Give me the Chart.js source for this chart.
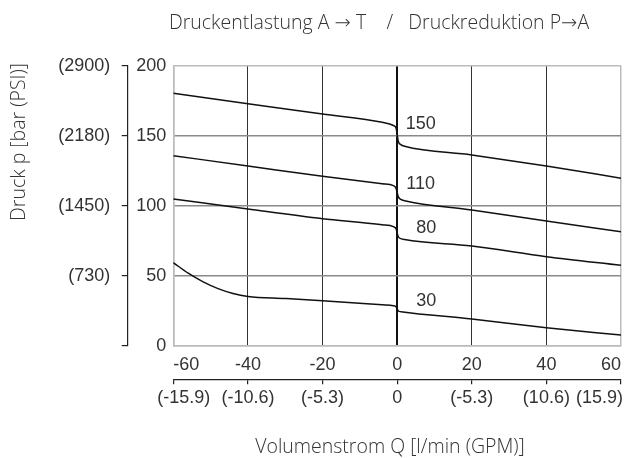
<!DOCTYPE html>
<html lang="de">
<head>
<meta charset="UTF-8">
<title>Druckentlastung / Druckreduktion</title>
<script src="https://cdn.jsdelivr.net/npm/chart.js"></script>
<style>
  html, body { margin: 0; padding: 0; background: #ffffff; }
  #wrap { width: 630px; height: 458px; }
</style>
</head>
<body>
<div id="wrap"><canvas id="chart" width="630" height="458"></canvas></div>
<script>
// axis ticks (bar / l/min) and the secondary labels (PSI / GPM)
const flowTicks = [-60, -40, -20, 0, 20, 40, 60];
const gpmLabels = ['(-15.9)', '(-10.6)', '(-5.3)', '0', '(-5.3)', '(10.6)', '(15.9)'];
const barTicks = [0, 50, 100, 150, 200];
const psiLabels = ['', '(730)', '(1450)', '(2180)', '(2900)'];

// curves: flow Q [l/min] -> pressure p [bar]
const curveNames = ['150', '110', '80', '30'];
const flow150 = [-60, -40, -20, -4, -1, -0.3, 0, 0.3, 1, 2, 20, 40, 60];
const pres150 = [180.3, 172.9, 165.5, 159.6, 157.3, 155.5, 151, 146, 143.6, 142.5, 136.2, 128.4, 119.6];
const flow110 = [-60, -40, -20, -4, -1, -0.3, 0, 0.3, 1, 2, 20, 40, 60];
const pres110 = [135.7, 128.4, 121, 115.6, 114.3, 112.5, 109.5, 106.5, 104.5, 103.6, 96.9, 89.1, 81.4];
const flow80 = [-60, -40, -20, -4, -1, -0.3, 0, 0.3, 1, 2, 20, 40, 60];
const pres80 = [104.8, 97.6, 90.7, 86.4, 85, 83.5, 80.5, 77.8, 76.5, 75.8, 71.2, 63.6, 57.4];
const flow30 = [-60, -56, -52, -48, -44, -40, -30, -20, -4, -1, -0.3, 0, 0.3, 1, 20, 40, 60];
const pres30 = [59.3, 51.8, 45.6, 40.8, 37.3, 35.2, 33.7, 32.1, 29.2, 28.6, 27.9, 26.3, 24.8, 24.3, 19.1, 12.9, 7.6];

const curves = [[flow150, pres150], [flow110, pres110], [flow80, pres80], [flow30, pres30]];

const tickFont = { family: "'Liberation Sans', Arial, sans-serif", size: 18 };
const textFont = "300 19.5px 'Open Sans', 'DejaVu Sans', sans-serif";
const ink = '#333333';

const datasets = curves.map(([q, p], i) => ({
    label: curveNames[i],
    data: q.map((v, j) => ({ x: v, y: p[j] })),
    borderColor: '#111111',
    borderWidth: 1.5,
    pointRadius: 0,
    fill: false,
    cubicInterpolationMode: 'monotone',
    xAxisID: 'x',
    yAxisID: 'y'
}));

// curve names, GPM labels and the free texts
const extraText = {
    id: 'extraText',
    afterDatasetsDraw(chart) {
        const { ctx, scales: { x, y, x2 } } = chart;
        const spots = [[6.3, 158.6], [6.3, 115.5], [7.8, 83.9], [7.8, 31.9]];
        ctx.save();
        ctx.fillStyle = ink;
        ctx.font = `${tickFont.size}px ${tickFont.family}`;
        ctx.textAlign = 'center';
        ctx.textBaseline = 'middle';
        curveNames.forEach((name, i) => {
            ctx.fillText(name, x.getPixelForValue(spots[i][0]), y.getPixelForValue(spots[i][1]));
        });

        // GPM labels: the end ones are pulled inward like in the original sheet
        const last = flowTicks.length - 1;
        flowTicks.forEach((q, i) => {
            let px = x2.getPixelForValue(q);
            ctx.textAlign = 'center';
            if (i === 0) { ctx.textAlign = 'left'; px -= 16; }
            if (i === last) { ctx.textAlign = 'right'; px += 2; }
            ctx.fillText(gpmLabels[i], px, x2.top + 19);
        });

        ctx.font = textFont;
        ctx.textAlign = 'center';
        ctx.fillText('Druckentlastung A \u2192 T    /   Druckreduktion P\u2192A', 379, 23);
        ctx.fillText('Volumenstrom Q [l/min (GPM)]', 390, 447);
        ctx.translate(19, 142);
        ctx.rotate(-Math.PI / 2);
        ctx.fillText('Druck p [bar (PSI)]', 0, 0);
        ctx.restore();
    }
};

new Chart(document.getElementById('chart'), {
    type: 'line',
    data: { datasets },
    options: {
        responsive: false,
        animation: false,
        layout: { padding: { top: 65.7, right: 9, bottom: 38.7, left: 0 } },
        plugins: { legend: { display: false }, tooltip: { enabled: false } },
        scales: {
            x: {
                type: 'linear', position: 'bottom', weight: 0,
                min: -60, max: 60,
                ticks: { stepSize: 20, color: ink, font: tickFont, padding: 9, align: 'inner', maxRotation: 0 },
                grid: {
                    drawTicks: false,
                    color: c => (c.tick.value === 0 ? '#111111' : Math.abs(c.tick.value) === 60 ? '#bbbbbb' : '#333333'),
                    lineWidth: c => (c.tick.value === 0 ? 2 : Math.abs(c.tick.value) === 60 ? 1.5 : 1)
                },
                border: { color: '#bbbbbb', width: 1.5 },
                afterFit: s => { s.height = 33.6; }
            },
            x2: {
                type: 'linear', position: 'bottom', weight: 1,
                min: -60, max: 60,
                ticks: { stepSize: 20, display: false },
                grid: { drawOnChartArea: false, tickLength: 5, color: '#222222', lineWidth: 1.2 },
                border: { color: '#222222', width: 1.2 },
                afterFit: s => { s.height = 40; s.paddingLeft = 0; s.paddingRight = 0; }
            },
            y: {
                position: 'left', weight: 0,
                min: 0, max: 200,
                ticks: { stepSize: 50, color: ink, font: tickFont, padding: 7 },
                grid: {
                    drawTicks: false,
                    color: c => (c.tick.value === 0 || c.tick.value === 200 ? '#bbbbbb' : '#8a8a8a'),
                    lineWidth: 1.5
                },
                border: { color: '#bbbbbb', width: 1.5 },
                afterFit: s => { s.width = 45.6; }
            },
            y2: {
                position: 'left', weight: 1,
                min: 0, max: 200,
                ticks: {
                    stepSize: 50, color: ink, font: tickFont, padding: 11.5,
                    callback: v => psiLabels[barTicks.indexOf(v)]
                },
                grid: { drawOnChartArea: false, tickLength: 6, color: '#222222', lineWidth: 1.2 },
                border: { color: '#222222', width: 1.2 },
                afterFit: s => { s.width = 127.7; }
            }
        }
    },
    plugins: [extraText]
});
</script>
</body>
</html>
